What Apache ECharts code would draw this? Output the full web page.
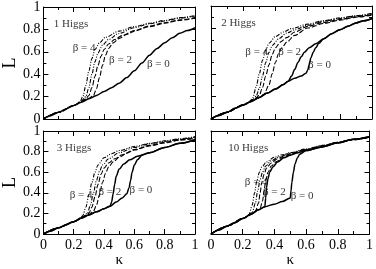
<!DOCTYPE html>
<html><head><meta charset="utf-8">
<script src="https://cdn.jsdelivr.net/npm/echarts@6/dist/echarts.min.js"></script>
<style>html,body{margin:0;padding:0;background:#fff}#c{width:376px;height:269px}</style>
</head><body><div id="c"></div>
<script>
// ---- Data: [kappa, L] ----
const p1_b0  = [[0,0],[0.05,0.03],[0.1,0.06],[0.15,0.09],[0.2,0.12],[0.25,0.15],[0.3,0.18],[0.35,0.21],[0.4,0.245],[0.45,0.28],[0.5,0.32],[0.55,0.37],[0.6,0.43],[0.65,0.5],[0.7,0.57],[0.75,0.63],[0.8,0.68],[0.85,0.725],[0.9,0.765],[0.95,0.79],[1,0.815]];
const p1_b2a = [[0,0],[0.1,0.06],[0.2,0.12],[0.25,0.155],[0.28,0.18],[0.3,0.21],[0.32,0.28],[0.34,0.38],[0.36,0.48],[0.38,0.56],[0.4,0.62],[0.43,0.67],[0.47,0.71],[0.52,0.745],[0.6,0.79],[0.7,0.83],[0.8,0.86],[0.9,0.885],[1,0.905]];
const p1_b2b = [[0,0],[0.1,0.06],[0.2,0.12],[0.25,0.155],[0.3,0.185],[0.33,0.21],[0.35,0.27],[0.37,0.37],[0.39,0.48],[0.41,0.57],[0.43,0.63],[0.46,0.68],[0.5,0.72],[0.55,0.755],[0.6,0.785],[0.7,0.825],[0.8,0.855],[0.9,0.88],[1,0.9]];
const p1_b4a = [[0,0],[0.1,0.06],[0.2,0.12],[0.24,0.15],[0.26,0.2],[0.28,0.3],[0.3,0.43],[0.32,0.54],[0.34,0.62],[0.37,0.68],[0.41,0.73],[0.5,0.785],[0.6,0.825],[0.7,0.855],[0.8,0.88],[0.9,0.905],[1,0.925]];
const p1_b4b = [[0,0],[0.1,0.06],[0.2,0.12],[0.25,0.16],[0.28,0.2],[0.3,0.28],[0.32,0.4],[0.34,0.51],[0.36,0.59],[0.39,0.66],[0.43,0.71],[0.5,0.765],[0.6,0.815],[0.7,0.85],[0.8,0.875],[0.9,0.9],[1,0.92]];

const p2_b0a = [[0,0],[0.05,0.03],[0.1,0.06],[0.15,0.095],[0.2,0.125],[0.25,0.155],[0.3,0.19],[0.35,0.23],[0.4,0.265],[0.45,0.305],[0.48,0.335],[0.5,0.38],[0.52,0.44],[0.54,0.5],[0.56,0.55],[0.58,0.59],[0.61,0.63],[0.65,0.665],[0.7,0.71],[0.75,0.755],[0.8,0.79],[0.85,0.82],[0.9,0.85],[0.95,0.87],[1,0.89]];
const p2_b0b = [[0,0],[0.05,0.03],[0.1,0.06],[0.15,0.095],[0.2,0.125],[0.25,0.155],[0.3,0.19],[0.35,0.23],[0.4,0.265],[0.45,0.305],[0.48,0.335],[0.52,0.36],[0.56,0.38],[0.59,0.405],[0.6,0.43],[0.61,0.48],[0.62,0.54],[0.635,0.59],[0.65,0.63],[0.67,0.67],[0.7,0.71],[0.75,0.755],[0.8,0.79],[0.85,0.82],[0.9,0.85],[0.95,0.87],[1,0.89]];
const p2_b2a = [[0,0],[0.1,0.06],[0.2,0.125],[0.27,0.175],[0.3,0.21],[0.32,0.28],[0.34,0.38],[0.36,0.48],[0.38,0.57],[0.4,0.63],[0.43,0.68],[0.47,0.72],[0.52,0.77],[0.6,0.82],[0.7,0.855],[0.8,0.88],[0.9,0.905],[1,0.925]];
const p2_b2b = [[0,0],[0.1,0.06],[0.2,0.125],[0.3,0.195],[0.33,0.22],[0.36,0.3],[0.38,0.4],[0.4,0.5],[0.42,0.58],[0.44,0.63],[0.47,0.68],[0.52,0.74],[0.6,0.805],[0.7,0.845],[0.8,0.875],[0.9,0.9],[1,0.92]];
const p2_b4a = [[0,0],[0.1,0.06],[0.2,0.125],[0.24,0.15],[0.26,0.19],[0.28,0.28],[0.3,0.4],[0.32,0.52],[0.34,0.61],[0.36,0.67],[0.4,0.73],[0.45,0.77],[0.5,0.8],[0.6,0.84],[0.7,0.87],[0.8,0.895],[0.9,0.915],[1,0.935]];
const p2_b4b = [[0,0],[0.1,0.06],[0.2,0.125],[0.25,0.16],[0.28,0.2],[0.3,0.27],[0.32,0.38],[0.34,0.5],[0.36,0.59],[0.38,0.65],[0.42,0.71],[0.47,0.76],[0.52,0.79],[0.6,0.83],[0.7,0.865],[0.8,0.89],[0.9,0.91],[1,0.93]];

const p3_b0a = [[0,0],[0.05,0.03],[0.1,0.06],[0.15,0.09],[0.2,0.12],[0.25,0.155],[0.3,0.185],[0.35,0.215],[0.4,0.245],[0.44,0.27],[0.45,0.31],[0.46,0.39],[0.47,0.48],[0.48,0.56],[0.5,0.63],[0.53,0.68],[0.57,0.72],[0.62,0.755],[0.7,0.79],[0.8,0.84],[0.9,0.88],[1,0.915]];
const p3_b0b = [[0,0],[0.05,0.03],[0.1,0.06],[0.15,0.09],[0.2,0.12],[0.25,0.155],[0.3,0.185],[0.35,0.215],[0.4,0.245],[0.44,0.27],[0.48,0.31],[0.52,0.35],[0.55,0.39],[0.565,0.45],[0.575,0.52],[0.585,0.6],[0.6,0.67],[0.62,0.72],[0.65,0.765],[0.7,0.79],[0.8,0.84],[0.9,0.88],[1,0.915]];
const p3_b2a = [[0,0],[0.1,0.06],[0.2,0.12],[0.27,0.17],[0.3,0.2],[0.32,0.26],[0.34,0.36],[0.36,0.48],[0.38,0.58],[0.4,0.64],[0.43,0.69],[0.47,0.73],[0.52,0.77],[0.6,0.82],[0.7,0.86],[0.8,0.89],[0.9,0.915],[1,0.935]];
const p3_b2b = [[0,0],[0.1,0.06],[0.2,0.12],[0.3,0.19],[0.33,0.22],[0.35,0.28],[0.37,0.38],[0.39,0.5],[0.41,0.59],[0.43,0.65],[0.46,0.7],[0.5,0.745],[0.55,0.785],[0.6,0.815],[0.7,0.855],[0.8,0.885],[0.9,0.91],[1,0.93]];
const p3_b4a = [[0,0],[0.1,0.06],[0.2,0.12],[0.24,0.15],[0.26,0.18],[0.28,0.26],[0.3,0.38],[0.32,0.5],[0.34,0.6],[0.36,0.67],[0.4,0.74],[0.45,0.78],[0.5,0.81],[0.6,0.85],[0.7,0.88],[0.8,0.905],[0.9,0.925],[1,0.945]];
const p3_b4b = [[0,0],[0.1,0.06],[0.2,0.12],[0.26,0.165],[0.29,0.2],[0.31,0.28],[0.33,0.4],[0.35,0.52],[0.37,0.61],[0.39,0.67],[0.43,0.73],[0.5,0.79],[0.6,0.84],[0.7,0.875],[0.8,0.9],[0.9,0.92],[1,0.94]];

const p4_b0a = [[0,0],[0.05,0.04],[0.1,0.075],[0.15,0.11],[0.2,0.15],[0.25,0.19],[0.3,0.235],[0.34,0.265],[0.345,0.35],[0.35,0.45],[0.36,0.54],[0.37,0.6],[0.39,0.65],[0.42,0.7],[0.46,0.74],[0.5,0.765],[0.55,0.79],[0.6,0.81],[0.7,0.845],[0.8,0.885],[0.9,0.92],[1,0.945]];
const p4_b0b = [[0,0],[0.05,0.04],[0.1,0.075],[0.15,0.11],[0.2,0.15],[0.25,0.19],[0.3,0.235],[0.34,0.265],[0.4,0.29],[0.45,0.315],[0.5,0.35],[0.505,0.42],[0.51,0.5],[0.52,0.6],[0.53,0.68],[0.545,0.74],[0.56,0.775],[0.6,0.81],[0.7,0.845],[0.8,0.885],[0.9,0.92],[1,0.945]];
const p4_b2a = [[0,0],[0.1,0.075],[0.2,0.15],[0.25,0.19],[0.28,0.22],[0.3,0.3],[0.31,0.4],[0.32,0.5],[0.335,0.58],[0.35,0.64],[0.38,0.69],[0.42,0.73],[0.47,0.765],[0.5,0.78],[0.6,0.82],[0.7,0.855],[0.8,0.89],[0.9,0.92],[1,0.945]];
const p4_b2b = [[0,0],[0.1,0.075],[0.2,0.15],[0.28,0.22],[0.31,0.25],[0.325,0.32],[0.335,0.42],[0.345,0.52],[0.36,0.6],[0.38,0.66],[0.41,0.7],[0.45,0.74],[0.5,0.775],[0.6,0.815],[0.7,0.85],[0.8,0.885],[0.9,0.915],[1,0.94]];
const p4_b4a = [[0,0],[0.1,0.075],[0.2,0.15],[0.22,0.16],[0.24,0.19],[0.26,0.28],[0.275,0.4],[0.29,0.52],[0.305,0.6],[0.32,0.65],[0.35,0.7],[0.4,0.745],[0.45,0.77],[0.5,0.79],[0.6,0.825],[0.7,0.86],[0.8,0.89],[0.9,0.92],[1,0.945]];
const p4_b4b = [[0,0],[0.1,0.075],[0.2,0.15],[0.24,0.18],[0.26,0.21],[0.28,0.3],[0.295,0.42],[0.31,0.53],[0.325,0.6],[0.345,0.66],[0.38,0.71],[0.43,0.75],[0.5,0.785],[0.6,0.82],[0.7,0.855],[0.8,0.885],[0.9,0.915],[1,0.94]];

// annotations: [kappa, L, text]
const p1_notes = [[0.065,0.85,'1 Higgs'],[0.19,0.63,'β = 4'],[0.43,0.53,'β = 2'],[0.68,0.49,'β = 0']];
const p2_notes = [[0.06,0.85,'2 Higgs'],[0.21,0.59,'β = 4'],[0.415,0.59,'β = 2'],[0.60,0.48,'β = 0']];
const p3_notes = [[0.085,0.83,'3 Higgs'],[0.17,0.38,'β = 4'],[0.36,0.41,'β = 2'],[0.565,0.43,'β = 0']];
const p4_notes = [[0.105,0.83,'10 Higgs'],[0.21,0.50,'β = 4'],[0.325,0.41,'β = 2'],[0.50,0.37,'β = 0']];

const xTickLabels = ['0','0.2','0.4','0.6','0.8','1'];
const yTickLabels = ['0','0.2','0.4','0.6','0.8','1'];

const panels = [
  {curves:[[p1_b0,'solid'],[p1_b2a,'dash'],[p1_b2b,'dash'],[p1_b4a,'dd'],[p1_b4b,'dd']], notes:p1_notes},
  {curves:[[p2_b0a,'solid'],[p2_b0b,'solid'],[p2_b2a,'dash'],[p2_b2b,'dash'],[p2_b4a,'dd'],[p2_b4b,'dd']], notes:p2_notes},
  {curves:[[p3_b0a,'solid'],[p3_b0b,'solid'],[p3_b2a,'dash'],[p3_b2b,'dash'],[p3_b4a,'dd'],[p3_b4b,'dd']], notes:p3_notes},
  {curves:[[p4_b0a,'solid'],[p4_b0b,'solid'],[p4_b2a,'dash'],[p4_b2b,'dash'],[p4_b4a,'dd'],[p4_b4b,'dd']], notes:p4_notes}
];

const FONT = "'Liberation Serif', 'Times New Roman', serif";
const gridRects = [
  {left:34, top:6, width:161, height:113},
  {left:211, top:6, width:161, height:113},
  {left:34, top:131, width:161, height:112},
  {left:211, top:131, width:161, height:112}
];
const styles = {
  solid:{type:'solid', width:1.5},
  dash:{type:[5,2], width:1.1},
  dd:{type:[4,1.5,1,1.5,1,1.5], width:1.1}
};

const xAxes = [], yAxes = [], series = [];
function axisBase(g){
  return {
    gridIndex:g, type:'value', min:0, max:1, interval:0.2,
    axisLine:{show:true, onZero:false, lineStyle:{color:'#000', width:1}},
    axisTick:{show:true, inside:true, length:5, lineStyle:{color:'#000', width:1}},
    minorTick:{show:true, splitNumber:2, length:3, lineStyle:{color:'#000', width:1}},
    splitLine:{show:false}, minorSplitLine:{show:false}
  };
}
gridRects.forEach((r,g)=>{
  const bottomRow = g>=2, leftCol = g%2===0;
  xAxes.push(Object.assign(axisBase(g), {
    position:'bottom',
    axisLabel:{show:bottomRow, margin:4, fontFamily:FONT, fontSize:14, color:'#000',
      formatter:(v)=>xTickLabels[Math.round(v/0.2)]},
    name: bottomRow ? 'κ' : '', nameLocation:'middle', nameGap:19,
    nameTextStyle:{fontFamily:FONT, fontSize:15, color:'#000'}
  }));
  xAxes.push(Object.assign(axisBase(g), {position:'top', axisLabel:{show:false}}));
  yAxes.push(Object.assign(axisBase(g), {
    position:'left',
    axisLabel:{show:leftCol, margin:3, fontFamily:FONT, fontSize:14, color:'#000',
      formatter:(v)=>yTickLabels[Math.round(v/0.2)]},
    name: leftCol ? 'L' : '', nameLocation:'middle', nameGap:18,
    nameTextStyle:{fontFamily:FONT, fontSize:18, color:'#000'}
  }));
  yAxes.push(Object.assign(axisBase(g), {position:'right', axisLabel:{show:false}}));

  panels[g].curves.forEach(([data, st])=>{
    series.push({
      type:'line', xAxisIndex:2*g, yAxisIndex:2*g, data:data,
      showSymbol:false, symbol:'none', smooth:0.3, smoothMonotone:'x',
      lineStyle:Object.assign({color:'#000'}, styles[st]),
      silent:true, animation:false, z:3
    });
  });
  series.push({
    type:'scatter', xAxisIndex:2*g, yAxisIndex:2*g,
    data:panels[g].notes, symbolSize:1, itemStyle:{color:'rgba(0,0,0,0)'},
    label:{show:true, position:'right', distance:0, fontFamily:FONT, fontSize:11, color:'#000',
      formatter:(p)=>p.data[2]},
    silent:true, animation:false, z:5
  });
});

const chart = echarts.init(document.getElementById('c'), null, {renderer:'canvas'});
chart.setOption({
  backgroundColor:'#fff',
  animation:false,
  grid: gridRects.map(r=>Object.assign({containLabel:false}, r)),
  xAxis:xAxes, yAxis:yAxes, series:series
});
</script>
</body></html>
